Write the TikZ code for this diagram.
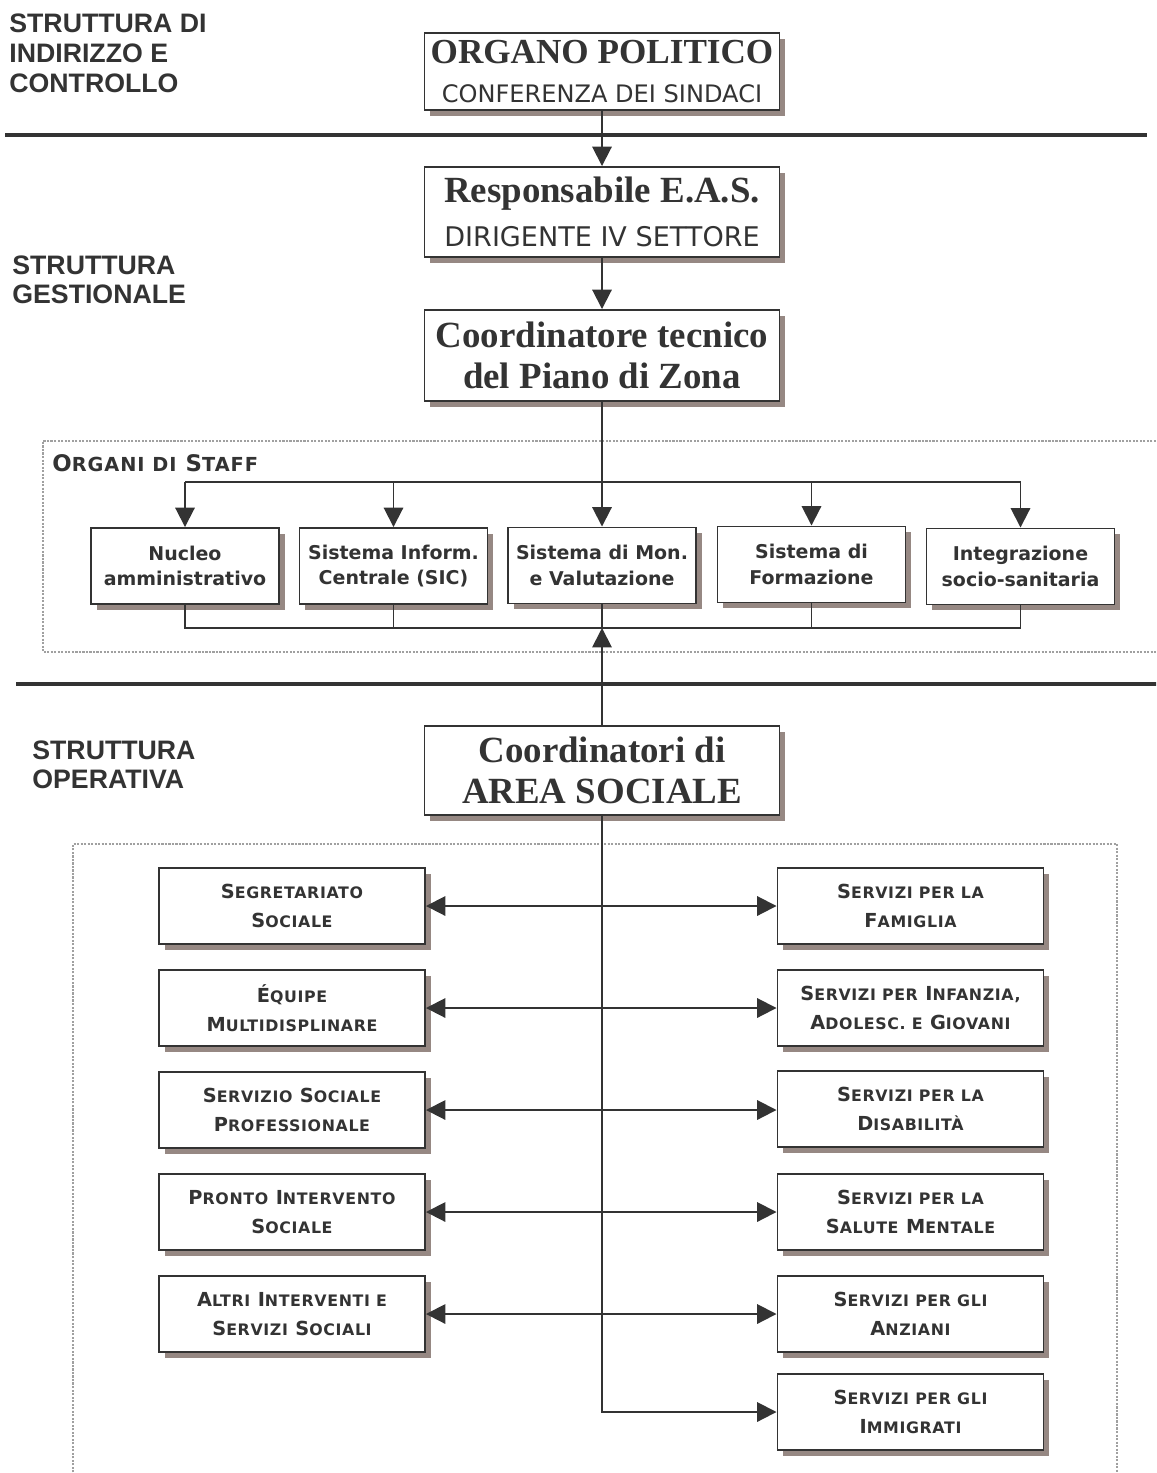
\documentclass[tikz,border=0pt]{standalone}
\usepackage{fontspec}
\setmainfont{Liberation Serif}
\newfontfamily\lsans{Liberation Sans}
\newfontfamily\dvs{DejaVu Sans}
\newfontfamily\dvsls[LetterSpace=4]{DejaVu Sans}
\newfontfamily\dvsst[LetterSpace=5]{DejaVu Sans}
\usetikzlibrary{arrows.meta,shadows}
\definecolor{ink}{HTML}{333333}
\definecolor{shc}{HTML}{968883}
\definecolor{dotc}{HTML}{A0A0A0}
\newcommand\hd{\fontsize{21}{23}\selectfont\bfseries}
\newcommand\smc[1]{{\fontsize{9}{16.4}\selectfont #1}}
\newcommand\smt[1]{{\fontsize{11}{14}\selectfont #1}}
\begin{document}
\begin{tikzpicture}[x=0.02cm,y=-0.02cm,
  line/.style={draw=ink, line width=1.1pt},
  sep/.style={draw=ink, line width=2.2pt},
  arr/.style={line, -{Triangle[length=11pt,width=11pt]}},
  darr/.style={line, {Triangle[length=11pt,width=11pt]}-{Triangle[length=11pt,width=11pt]}},
  dotbox/.style={draw=dotc, line width=0.6pt, dash pattern=on 1.2pt off 0.8pt},
  wh/.style 2 args={minimum width=#1*0.02cm, minimum height=#2*0.02cm},
  box/.style={draw=ink, line width=1.1pt, fill=white, text=ink, align=center, inner sep=0pt,
    drop shadow={shadow xshift=3.2pt, shadow yshift=-3.2pt, fill=shc, opacity=1}},
  staffbox/.style={box, wh={188}{76}, font=\dvs\bfseries\fontsize{10.8}{14.7}\selectfont},
  opbox/.style={box, wh={266}{76}, font=\dvsls\bfseries\fontsize{11}{16.4}\selectfont},
  lab/.style={anchor=north west, inner sep=0pt, text=ink, align=left,
    font=\lsans\bfseries\fontsize{15.2}{17}\selectfont}
]
\clip (0,0) rectangle (1156,1473);
\fill[white] (0,0) rectangle (1156,1473);

% dotted containers
\draw[dotbox] (1170,441) -- (43,441) -- (43,652) -- (1170,652);
\draw[dotbox] (73,1490) -- (73,844) -- (1117,844) -- (1117,1490);

% separators
\coordinate (s1l) at (5,135);
\coordinate (s1r) at (1147,135);
\coordinate (s2l) at (16,684);
\coordinate (s2r) at (1160,684);
\draw[sep] (s1l) -- (s1r);
\draw[sep] (s2l) -- (s2r);

% side labels
\node[lab] (l1) at (9,14) {STRUTTURA DI\\INDIRIZZO E\\CONTROLLO};
\node[lab] (l2) at (12,255) {STRUTTURA\\GESTIONALE};
\node[lab] (l3) at (32,740) {STRUTTURA\\OPERATIVA};
\node[anchor=north west, inner sep=0pt, text=ink, font=\dvsst\bfseries\fontsize{13}{15}\selectfont] (stafflab) at (52,454) {O\smt{RGANI DI} S\smt{TAFF}};

% main column
\node[box, wh={355}{77}, font=\fontsize{14}{22.5}\selectfont] (org) at (602,71.5)
  {{\fontsize{20}{22.5}\selectfont\bfseries ORGANO POLITICO}\\{\dvs\fontsize{13.7}{22.5}\selectfont CONFERENZA DEI SINDACI}};
\node[box, wh={355}{90}, font=\fontsize{14}{25}\selectfont] (resp) at (602,212)
  {{\fontsize{21}{25}\selectfont\bfseries Responsabile E.A.S.}\\{\dvs\fontsize{15.4}{25}\selectfont DIRIGENTE IV SETTORE}};
\node[box, wh={355}{91}, font=\hd] (coord) at (602,355.5)
  {Coordinatore tecnico\\del Piano di Zona};
\node[box, wh={355}{89}, font=\hd] (area) at (602,770.5)
  {Coordinatori di\\AREA SOCIALE};

% staff
\node[staffbox] (nuc) at (185,566) {Nucleo\\amministrativo};
\node[staffbox] (inf) at (393.5,566) {Sistema Inform.\\Centrale (SIC)};
\node[staffbox] (mon) at (602,565.5) {Sistema di Mon.\\e Valutazione};
\node[staffbox] (form) at (811.5,564.5) {Sistema di\\Formazione};
\node[staffbox] (integ) at (1020.5,566.5) {Integrazione\\socio-sanitaria};

% operative boxes
\node[opbox] (segr) at (292,906) {S\smc{EGRETARIATO}\\S\smc{OCIALE}};
\node[opbox] (equi) at (292,1008) {É\smc{QUIPE}\\M\smc{ULTIDISPLINARE}};
\node[opbox] (ssp) at (292,1110) {S\smc{ERVIZIO} S\smc{OCIALE}\\P\smc{ROFESSIONALE}};
\node[opbox] (pron) at (292,1212) {P\smc{RONTO} I\smc{NTERVENTO}\\S\smc{OCIALE}};
\node[opbox] (altri) at (292,1314) {A\smc{LTRI} I\smc{NTERVENTI E}\\S\smc{ERVIZI} S\smc{OCIALI}};

\node[opbox] (fam) at (910.5,906) {S\smc{ERVIZI PER LA}\\F\smc{AMIGLIA}};
\node[opbox] (infz) at (910.5,1008) {S\smc{ERVIZI PER} I\smc{NFANZIA,}\\A\smc{DOLESC. E} G\smc{IOVANI}};
\node[opbox] (dis) at (910.5,1109) {S\smc{ERVIZI PER LA}\\D\smc{ISABILITÀ}};
\node[opbox] (sal) at (910.5,1212) {S\smc{ERVIZI PER LA}\\S\smc{ALUTE} M\smc{ENTALE}};
\node[opbox] (anz) at (910.5,1314) {S\smc{ERVIZI PER GLI}\\A\smc{NZIANI}};
\node[opbox] (imm) at (910.5,1412) {S\smc{ERVIZI PER GLI}\\I\smc{MMIGRATI}};

% connectors top
\draw[arr] (org) -- (resp);
\draw[arr] (resp) -- (coord);
\draw[arr] (coord) -- (mon);
\coordinate (bt) at (602,482);
\coordinate (bb) at (602,628);
\draw[line] (nuc.north |- bt) -- (integ.north |- bt);
\foreach \n in {nuc,inf,form,integ} \draw[arr] (\n.north |- bt) -- (\n.north);
\draw[line] (nuc.south) -- (nuc.south |- bb) -- (integ.south |- bb) -- (integ.south);
\foreach \n in {inf,mon,form} \draw[line] (\n.south) -- (\n.south |- bb);
\draw[arr] (area.north) -- (bb);

% operative connectors
\draw[arr] (area.south) |- (imm.west);
\draw[darr] (segr.east) -- (fam.west);
\draw[darr] (equi.east) -- (infz.west);
\draw[darr] (ssp.east) -- (ssp.east -| dis.west);
\draw[darr] (pron.east) -- (sal.west);
\draw[darr] (altri.east) -- (anz.west);
\end{tikzpicture}
\end{document}
